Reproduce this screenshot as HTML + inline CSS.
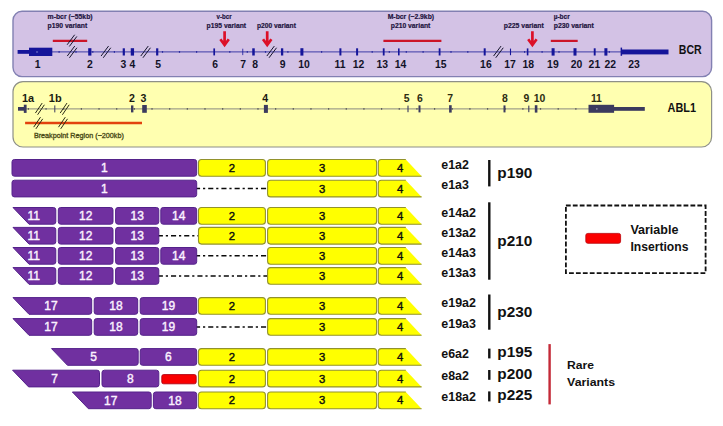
<!DOCTYPE html>
<html><head><meta charset="utf-8"><title>BCR-ABL1 fusion variants</title>
<style>
html,body{margin:0;padding:0;background:#ffffff;}
body{width:723px;height:426px;overflow:hidden;}
svg{display:block;}
text{font-family:"Liberation Sans",sans-serif;}
.b{font-weight:bold;}
</style></head><body>
<svg width="723" height="426" viewBox="0 0 723 426">
<rect x="0" y="0" width="723" height="426" fill="#ffffff"/>

<rect x="13" y="11.3" width="698.6" height="65.3" rx="9" ry="9" fill="#d3c2e5" stroke="#8280b2" stroke-width="1.4"/>
<line x1="18" y1="51.9" x2="668" y2="51.9" stroke="#2c2ca0" stroke-width="0.9"/>
<rect x="17.6" y="50" width="12" height="3.8" fill="#15159a"/>
<rect x="29" y="47.7" width="23.3" height="8.3" fill="#15159a"/>
<path d="M36.5 51.2 L38.3 52 L36.5 52.8Z" fill="#b0b0e8"/>
<rect x="88.20" y="48.20" width="3.2" height="7.4" fill="#15159a"/>
<rect x="122.70" y="48.30" width="2.2" height="7.2" fill="#15159a"/>
<rect x="130.75" y="48.20" width="3.3" height="7.4" fill="#15159a"/>
<rect x="156.10" y="48.30" width="2.2" height="7.2" fill="#15159a"/>
<rect x="213.35" y="48.40" width="1.7" height="7" fill="#15159a"/>
<rect x="242.40" y="48.70" width="0.8" height="6.4" fill="#15159a"/>
<rect x="252.25" y="48.30" width="2.5" height="7.2" fill="#15159a"/>
<rect x="280.95" y="48.30" width="2.3" height="7.2" fill="#15159a"/>
<rect x="300.40" y="48.20" width="3" height="7.4" fill="#15159a"/>
<rect x="339.40" y="48.30" width="2" height="7.2" fill="#15159a"/>
<rect x="356.10" y="48.30" width="2" height="7.2" fill="#15159a"/>
<rect x="382.80" y="48.30" width="1.8" height="7.2" fill="#15159a"/>
<rect x="398.00" y="48.40" width="1.6" height="7" fill="#15159a"/>
<rect x="438.70" y="48.30" width="1.8" height="7.2" fill="#15159a"/>
<rect x="483.70" y="48.30" width="2" height="7.2" fill="#15159a"/>
<rect x="509.95" y="48.60" width="1.1" height="6.6" fill="#15159a"/>
<rect x="526.80" y="48.40" width="1.6" height="7" fill="#15159a"/>
<rect x="551.60" y="48.20" width="3" height="7.4" fill="#15159a"/>
<rect x="573.50" y="48.20" width="3" height="7.4" fill="#15159a"/>
<rect x="593.75" y="48.30" width="1.9" height="7.2" fill="#15159a"/>
<rect x="604.40" y="48.20" width="3" height="7.4" fill="#15159a"/>
<rect x="620.6" y="47.6" width="1.5" height="8.2" fill="#15159a"/>
<rect x="621.6" y="49.5" width="46.9" height="4.9" fill="#15159a"/>
<rect x="58.5" y="51.0" width="1.2" height="1.8" fill="#2c2ca0"/>
<rect x="75.4" y="51.0" width="1.2" height="1.8" fill="#2c2ca0"/>
<rect x="92.2" y="51.0" width="1.2" height="1.8" fill="#2c2ca0"/>
<rect x="113.80000000000001" y="51.0" width="1.2" height="1.8" fill="#2c2ca0"/>
<rect x="161.9" y="51.0" width="1.2" height="1.8" fill="#2c2ca0"/>
<rect x="178.9" y="51.0" width="1.2" height="1.8" fill="#2c2ca0"/>
<rect x="196.0" y="51.0" width="1.2" height="1.8" fill="#2c2ca0"/>
<rect x="229.20000000000002" y="51.0" width="1.2" height="1.8" fill="#2c2ca0"/>
<rect x="246.70000000000002" y="51.0" width="1.2" height="1.8" fill="#2c2ca0"/>
<rect x="264.9" y="51.0" width="1.2" height="1.8" fill="#2c2ca0"/>
<rect x="287.29999999999995" y="51.0" width="1.2" height="1.8" fill="#2c2ca0"/>
<rect x="321.0" y="51.0" width="1.2" height="1.8" fill="#2c2ca0"/>
<rect x="371.59999999999997" y="51.0" width="1.2" height="1.8" fill="#2c2ca0"/>
<rect x="388.7" y="51.0" width="1.2" height="1.8" fill="#2c2ca0"/>
<rect x="405.7" y="51.0" width="1.2" height="1.8" fill="#2c2ca0"/>
<rect x="422.5" y="51.0" width="1.2" height="1.8" fill="#2c2ca0"/>
<rect x="450.4" y="51.0" width="1.2" height="1.8" fill="#2c2ca0"/>
<rect x="467.2" y="51.0" width="1.2" height="1.8" fill="#2c2ca0"/>
<rect x="524.0" y="51.0" width="1.2" height="1.8" fill="#2c2ca0"/>
<rect x="541.5" y="51.0" width="1.2" height="1.8" fill="#2c2ca0"/>
<rect x="558.4" y="51.0" width="1.2" height="1.8" fill="#2c2ca0"/>
<rect x="608.6999999999999" y="51.0" width="1.2" height="1.8" fill="#2c2ca0"/>
<line x1="67.25" y1="56.05" x2="74.75" y2="46.05" stroke="#14142c" stroke-width="1.0"/>
<line x1="69.45" y1="57.75" x2="76.95" y2="47.75" stroke="#14142c" stroke-width="1.0"/>
<line x1="101.05" y1="56.05" x2="108.55" y2="46.05" stroke="#14142c" stroke-width="1.0"/>
<line x1="103.25" y1="57.75" x2="110.75" y2="47.75" stroke="#14142c" stroke-width="1.0"/>
<line x1="140.75" y1="56.05" x2="148.25" y2="46.05" stroke="#14142c" stroke-width="1.0"/>
<line x1="142.95" y1="57.75" x2="150.45" y2="47.75" stroke="#14142c" stroke-width="1.0"/>
<line x1="266.85" y1="56.05" x2="274.35" y2="46.05" stroke="#14142c" stroke-width="1.0"/>
<line x1="269.05" y1="57.75" x2="276.55" y2="47.75" stroke="#14142c" stroke-width="1.0"/>
<line x1="493.55" y1="56.05" x2="501.05" y2="46.05" stroke="#14142c" stroke-width="1.0"/>
<line x1="495.75" y1="57.75" x2="503.25" y2="47.75" stroke="#14142c" stroke-width="1.0"/>
<line x1="52.8" y1="40.9" x2="87.2" y2="40.9" stroke="#cc1428" stroke-width="2.2"/>
<line x1="67.15" y1="44.75" x2="74.65" y2="34.75" stroke="#14142c" stroke-width="1.0"/>
<line x1="69.35" y1="46.45" x2="76.85" y2="36.45" stroke="#14142c" stroke-width="1.0"/>
<line x1="383.4" y1="40.9" x2="441.4" y2="40.9" stroke="#cc1428" stroke-width="2.2"/>
<line x1="550.8" y1="40.9" x2="577.7" y2="40.9" stroke="#cc1428" stroke-width="2.2"/>
<path d="M224.6 31.2 V44.6 M220.4 39.2 L224.6 45 L228.79999999999998 39.2" fill="none" stroke="#dc1028" stroke-width="2.7" stroke-linejoin="miter" stroke-linecap="butt"/>
<path d="M267.2 31.2 V44.6 M263.0 39.2 L267.2 45 L271.4 39.2" fill="none" stroke="#dc1028" stroke-width="2.7" stroke-linejoin="miter" stroke-linecap="butt"/>
<path d="M532.4 31.2 V44.6 M528.1999999999999 39.2 L532.4 45 L536.6 39.2" fill="none" stroke="#dc1028" stroke-width="2.7" stroke-linejoin="miter" stroke-linecap="butt"/>
<text x="37.7" y="67.8" font-size="10.4" text-anchor="middle" class="b" fill="#121228">1</text>
<text x="90" y="67.8" font-size="10.4" text-anchor="middle" class="b" fill="#121228">2</text>
<text x="123.5" y="67.8" font-size="10.4" text-anchor="middle" class="b" fill="#121228">3</text>
<text x="132.4" y="67.8" font-size="10.4" text-anchor="middle" class="b" fill="#121228">4</text>
<text x="158.1" y="67.8" font-size="10.4" text-anchor="middle" class="b" fill="#121228">5</text>
<text x="215.2" y="67.8" font-size="10.4" text-anchor="middle" class="b" fill="#121228">6</text>
<text x="243.1" y="67.8" font-size="10.4" text-anchor="middle" class="b" fill="#121228">7</text>
<text x="255.2" y="67.8" font-size="10.4" text-anchor="middle" class="b" fill="#121228">8</text>
<text x="282.6" y="67.8" font-size="10.4" text-anchor="middle" class="b" fill="#121228">9</text>
<text x="304" y="67.8" font-size="10.4" text-anchor="middle" class="b" fill="#121228">10</text>
<text x="340" y="67.8" font-size="10.4" text-anchor="middle" class="b" fill="#121228">11</text>
<text x="358.5" y="67.8" font-size="10.4" text-anchor="middle" class="b" fill="#121228">12</text>
<text x="382.2" y="67.8" font-size="10.4" text-anchor="middle" class="b" fill="#121228">13</text>
<text x="400.6" y="67.8" font-size="10.4" text-anchor="middle" class="b" fill="#121228">14</text>
<text x="440.7" y="67.8" font-size="10.4" text-anchor="middle" class="b" fill="#121228">15</text>
<text x="485.9" y="67.8" font-size="10.4" text-anchor="middle" class="b" fill="#121228">16</text>
<text x="510.1" y="67.8" font-size="10.4" text-anchor="middle" class="b" fill="#121228">17</text>
<text x="528.2" y="67.8" font-size="10.4" text-anchor="middle" class="b" fill="#121228">18</text>
<text x="552.9" y="67.8" font-size="10.4" text-anchor="middle" class="b" fill="#121228">19</text>
<text x="576.5" y="67.8" font-size="10.4" text-anchor="middle" class="b" fill="#121228">20</text>
<text x="594.4" y="67.8" font-size="10.4" text-anchor="middle" class="b" fill="#121228">21</text>
<text x="610.2" y="67.8" font-size="10.4" text-anchor="middle" class="b" fill="#121228">22</text>
<text x="634.1" y="67.8" font-size="10.4" text-anchor="middle" class="b" fill="#121228">23</text>
<text x="47.6" y="18.5" font-size="6.4" text-anchor="start" class="b" fill="#1e1440" textLength="45" lengthAdjust="spacingAndGlyphs" stroke="#1e1440" stroke-width="0.18">m-bcr (~55kb)</text>
<text x="47.6" y="27.9" font-size="6.4" text-anchor="start" class="b" fill="#1e1440" textLength="39.6" lengthAdjust="spacingAndGlyphs" stroke="#1e1440" stroke-width="0.18">p190 variant</text>
<text x="216.6" y="18.5" font-size="6.4" text-anchor="start" class="b" fill="#1e1440" textLength="15" lengthAdjust="spacingAndGlyphs" stroke="#1e1440" stroke-width="0.18">v-bcr</text>
<text x="206.6" y="27.9" font-size="6.4" text-anchor="start" class="b" fill="#1e1440" textLength="39.5" lengthAdjust="spacingAndGlyphs" stroke="#1e1440" stroke-width="0.18">p195 variant</text>
<text x="256.9" y="27.9" font-size="6.4" text-anchor="start" class="b" fill="#1e1440" textLength="39" lengthAdjust="spacingAndGlyphs" stroke="#1e1440" stroke-width="0.18">p200 variant</text>
<text x="387.7" y="18.5" font-size="6.4" text-anchor="start" class="b" fill="#1e1440" textLength="46.4" lengthAdjust="spacingAndGlyphs" stroke="#1e1440" stroke-width="0.18">M-bcr (~2.9kb)</text>
<text x="390.8" y="27.9" font-size="6.4" text-anchor="start" class="b" fill="#1e1440" textLength="39.5" lengthAdjust="spacingAndGlyphs" stroke="#1e1440" stroke-width="0.18">p210 variant</text>
<text x="503.8" y="27.9" font-size="6.4" text-anchor="start" class="b" fill="#1e1440" textLength="40" lengthAdjust="spacingAndGlyphs" stroke="#1e1440" stroke-width="0.18">p225 variant</text>
<text x="553.7" y="18.5" font-size="6.4" text-anchor="start" class="b" fill="#1e1440" textLength="16" lengthAdjust="spacingAndGlyphs" stroke="#1e1440" stroke-width="0.18">µ-bcr</text>
<text x="553.7" y="27.9" font-size="6.4" text-anchor="start" class="b" fill="#1e1440" textLength="40.2" lengthAdjust="spacingAndGlyphs" stroke="#1e1440" stroke-width="0.18">p230 variant</text>
<text x="678.8" y="53.9" font-size="12.4" text-anchor="start" class="b" fill="#111" textLength="22.9" lengthAdjust="spacingAndGlyphs">BCR</text>
<rect x="13" y="81.6" width="698.6" height="65.4" rx="10" ry="10" fill="#ffffb0" stroke="#8e9088" stroke-width="1.2"/>
<line x1="18" y1="108.9" x2="600" y2="108.9" stroke="#7a7a7a" stroke-width="0.9"/>
<rect x="18" y="107" width="6" height="3.7" fill="#3b3a5e"/>
<rect x="23.8" y="104.7" width="2.8" height="8.2" fill="#3b3a5e"/>
<rect x="54.30" y="105.40" width="1" height="7" fill="#3b3a5e"/>
<rect x="131.00" y="105.40" width="2.4" height="7" fill="#3b3a5e"/>
<rect x="142.20" y="105.00" width="4.6" height="7.8" fill="#3b3a5e"/>
<rect x="263.90" y="104.90" width="4" height="8" fill="#3b3a5e"/>
<rect x="407.45" y="105.60" width="1.1" height="6.6" fill="#3b3a5e"/>
<rect x="418.50" y="105.40" width="2" height="7" fill="#3b3a5e"/>
<rect x="449.10" y="105.20" width="2.6" height="7.4" fill="#3b3a5e"/>
<rect x="503.50" y="105.40" width="2" height="7" fill="#3b3a5e"/>
<rect x="528.25" y="105.60" width="1.1" height="6.6" fill="#3b3a5e"/>
<rect x="534.80" y="105.20" width="2.6" height="7.4" fill="#3b3a5e"/>
<rect x="588.5" y="104.8" width="25.6" height="8" fill="#3b3a5e"/>
<rect x="614" y="107" width="30.8" height="3.8" fill="#3b3a5e"/>
<path d="M596.4 108 L598 108.9 L596.4 109.8Z" fill="#c8c8d8"/>
<rect x="27.80" y="108.10000000000001" width="1.2" height="1.6" fill="#555"/>
<rect x="45.46" y="108.10000000000001" width="1.2" height="1.6" fill="#555"/>
<rect x="63.12" y="108.10000000000001" width="1.2" height="1.6" fill="#555"/>
<rect x="80.78" y="108.10000000000001" width="1.2" height="1.6" fill="#555"/>
<rect x="98.44" y="108.10000000000001" width="1.2" height="1.6" fill="#555"/>
<rect x="116.10" y="108.10000000000001" width="1.2" height="1.6" fill="#555"/>
<rect x="133.76" y="108.10000000000001" width="1.2" height="1.6" fill="#555"/>
<rect x="151.42" y="108.10000000000001" width="1.2" height="1.6" fill="#555"/>
<rect x="169.08" y="108.10000000000001" width="1.2" height="1.6" fill="#555"/>
<rect x="186.74" y="108.10000000000001" width="1.2" height="1.6" fill="#555"/>
<rect x="204.40" y="108.10000000000001" width="1.2" height="1.6" fill="#555"/>
<rect x="222.06" y="108.10000000000001" width="1.2" height="1.6" fill="#555"/>
<rect x="239.72" y="108.10000000000001" width="1.2" height="1.6" fill="#555"/>
<rect x="257.38" y="108.10000000000001" width="1.2" height="1.6" fill="#555"/>
<rect x="275.04" y="108.10000000000001" width="1.2" height="1.6" fill="#555"/>
<rect x="292.70" y="108.10000000000001" width="1.2" height="1.6" fill="#555"/>
<rect x="310.36" y="108.10000000000001" width="1.2" height="1.6" fill="#555"/>
<rect x="328.02" y="108.10000000000001" width="1.2" height="1.6" fill="#555"/>
<rect x="345.68" y="108.10000000000001" width="1.2" height="1.6" fill="#555"/>
<rect x="363.34" y="108.10000000000001" width="1.2" height="1.6" fill="#555"/>
<rect x="381.00" y="108.10000000000001" width="1.2" height="1.6" fill="#555"/>
<rect x="398.66" y="108.10000000000001" width="1.2" height="1.6" fill="#555"/>
<rect x="416.32" y="108.10000000000001" width="1.2" height="1.6" fill="#555"/>
<rect x="433.98" y="108.10000000000001" width="1.2" height="1.6" fill="#555"/>
<rect x="451.64" y="108.10000000000001" width="1.2" height="1.6" fill="#555"/>
<rect x="469.30" y="108.10000000000001" width="1.2" height="1.6" fill="#555"/>
<rect x="486.96" y="108.10000000000001" width="1.2" height="1.6" fill="#555"/>
<rect x="504.62" y="108.10000000000001" width="1.2" height="1.6" fill="#555"/>
<rect x="522.28" y="108.10000000000001" width="1.2" height="1.6" fill="#555"/>
<rect x="539.94" y="108.10000000000001" width="1.2" height="1.6" fill="#555"/>
<rect x="557.60" y="108.10000000000001" width="1.2" height="1.6" fill="#555"/>
<rect x="575.26" y="108.10000000000001" width="1.2" height="1.6" fill="#555"/>
<line x1="35.40" y1="113.05" x2="42.20" y2="103.05" stroke="#2a2a14" stroke-width="1.0"/>
<line x1="37.60" y1="114.75" x2="44.40" y2="104.75" stroke="#2a2a14" stroke-width="1.0"/>
<line x1="60.20" y1="113.05" x2="67.00" y2="103.05" stroke="#2a2a14" stroke-width="1.0"/>
<line x1="62.40" y1="114.75" x2="69.20" y2="104.75" stroke="#2a2a14" stroke-width="1.0"/>
<line x1="25.1" y1="123" x2="142" y2="123" stroke="#e2420e" stroke-width="2.3"/>
<line x1="33.70" y1="127.15" x2="40.50" y2="117.15" stroke="#2a2a14" stroke-width="1.0"/>
<line x1="35.90" y1="128.85" x2="42.70" y2="118.85" stroke="#2a2a14" stroke-width="1.0"/>
<line x1="58.50" y1="127.15" x2="65.30" y2="117.15" stroke="#2a2a14" stroke-width="1.0"/>
<line x1="60.70" y1="128.85" x2="67.50" y2="118.85" stroke="#2a2a14" stroke-width="1.0"/>
<text x="22" y="101.9" font-size="11.2" text-anchor="start" class="b" fill="#1a1a10" textLength="12.2" lengthAdjust="spacingAndGlyphs">1a</text>
<text x="48.8" y="101.9" font-size="11.2" text-anchor="start" class="b" fill="#1a1a10" textLength="12.8" lengthAdjust="spacingAndGlyphs">1b</text>
<text x="131.9" y="101.9" font-size="10.6" text-anchor="middle" class="b" fill="#1a1a10">2</text>
<text x="143.4" y="101.9" font-size="10.6" text-anchor="middle" class="b" fill="#1a1a10">3</text>
<text x="265.2" y="101.9" font-size="10.6" text-anchor="middle" class="b" fill="#1a1a10">4</text>
<text x="406.7" y="101.9" font-size="10.4" text-anchor="middle" class="b" fill="#2c2c12">5</text>
<text x="420" y="101.9" font-size="10.4" text-anchor="middle" class="b" fill="#2c2c12">6</text>
<text x="450.2" y="101.9" font-size="10.4" text-anchor="middle" class="b" fill="#2c2c12">7</text>
<text x="505" y="101.9" font-size="10.4" text-anchor="middle" class="b" fill="#2c2c12">8</text>
<text x="526.3" y="101.9" font-size="10.4" text-anchor="middle" class="b" fill="#2c2c12">9</text>
<text x="539.5" y="101.9" font-size="10.4" text-anchor="middle" class="b" fill="#2c2c12">10</text>
<text x="596.4" y="101.9" font-size="10.4" text-anchor="middle" class="b" fill="#2c2c12">11</text>
<text x="33.9" y="137.6" font-size="6.8" text-anchor="start" class="n" fill="#4a4a16" textLength="90" lengthAdjust="spacingAndGlyphs" stroke="#4a4a16" stroke-width="0.3">Breakpoint Region (~200kb)</text>
<text x="667.6" y="111.7" font-size="12" text-anchor="start" class="b" fill="#111" textLength="28.4" lengthAdjust="spacingAndGlyphs">ABL1</text>
<rect x="12" y="159.5" width="184.70" height="16.7" rx="2.4" fill="#7030a0" stroke="#54228a" stroke-width="1"/>
<text x="104.35" y="172.30" font-size="12" text-anchor="middle" fill="#fbf2ff" stroke="#fbf2ff" stroke-width="0.4">1</text>
<rect x="198.5" y="159.5" width="66.90" height="16.7" rx="3" fill="#ffff00" stroke="#92922c" stroke-width="1.1"/>
<text x="231.95" y="171.90" font-size="11.3" text-anchor="middle" fill="#0c0c0c" stroke="#0c0c0c" stroke-width="0.4">2</text>
<rect x="267.6" y="159.5" width="109.00" height="16.7" rx="3" fill="#ffff00" stroke="#92922c" stroke-width="1.1"/>
<text x="322.10" y="171.90" font-size="11.3" text-anchor="middle" fill="#0c0c0c" stroke="#0c0c0c" stroke-width="0.4">3</text>
<path d="M381.3 159.5 H405.8 L421.6 176.2 H381.3 Q378.3 176.2 378.3 173.2 V162.5 Q378.3 159.5 381.3 159.5 Z" fill="#ffff00"/>
<path d="M405.8 159.5 H381.3 Q378.3 159.5 378.3 162.5 V173.2 Q378.3 176.2 381.3 176.2 H421.6" fill="none" stroke="#92922c" stroke-width="1.1"/>
<text x="400.2" y="171.90" font-size="11.3" text-anchor="middle" fill="#0c0c0c" stroke="#0c0c0c" stroke-width="0.4">4</text>
<line x1="195" y1="188.55" x2="268" y2="188.55" stroke="#0a0a0a" stroke-width="1.5" stroke-dasharray="5.1 2.9 2.2 3"/>
<rect x="12" y="180.2" width="184.70" height="16.7" rx="2.4" fill="#7030a0" stroke="#54228a" stroke-width="1"/>
<text x="104.35" y="193.00" font-size="12" text-anchor="middle" fill="#fbf2ff" stroke="#fbf2ff" stroke-width="0.4">1</text>
<rect x="267.6" y="180.2" width="109.00" height="16.7" rx="3" fill="#ffff00" stroke="#92922c" stroke-width="1.1"/>
<text x="322.10" y="192.60" font-size="11.3" text-anchor="middle" fill="#0c0c0c" stroke="#0c0c0c" stroke-width="0.4">3</text>
<path d="M381.3 180.2 H405.8 L421.6 196.89999999999998 H381.3 Q378.3 196.89999999999998 378.3 193.89999999999998 V183.2 Q378.3 180.2 381.3 180.2 Z" fill="#ffff00"/>
<path d="M405.8 180.2 H381.3 Q378.3 180.2 378.3 183.2 V193.89999999999998 Q378.3 196.89999999999998 381.3 196.89999999999998 H421.6" fill="none" stroke="#92922c" stroke-width="1.1"/>
<text x="400.2" y="192.60" font-size="11.3" text-anchor="middle" fill="#0c0c0c" stroke="#0c0c0c" stroke-width="0.4">4</text>
<path d="M13 207.5 H53.4 Q55.8 207.5 55.8 209.9 V221.79999999999998 Q55.8 224.2 53.4 224.2 H29 Z" fill="#7030a0" stroke="#54228a" stroke-width="1" stroke-linejoin="round"/>
<text x="33.80" y="220.30" font-size="12" text-anchor="middle" fill="#fbf2ff" stroke="#fbf2ff" stroke-width="0.4">11</text>
<rect x="58.3" y="207.5" width="54.70" height="16.7" rx="2.4" fill="#7030a0" stroke="#54228a" stroke-width="1"/>
<text x="85.65" y="220.30" font-size="12" text-anchor="middle" fill="#fbf2ff" stroke="#fbf2ff" stroke-width="0.4">12</text>
<rect x="115.6" y="207.5" width="43.20" height="16.7" rx="2.4" fill="#7030a0" stroke="#54228a" stroke-width="1"/>
<text x="137.20" y="220.30" font-size="12" text-anchor="middle" fill="#fbf2ff" stroke="#fbf2ff" stroke-width="0.4">13</text>
<rect x="160.8" y="207.5" width="35.90" height="16.7" rx="2.4" fill="#7030a0" stroke="#54228a" stroke-width="1"/>
<text x="178.75" y="220.30" font-size="12" text-anchor="middle" fill="#fbf2ff" stroke="#fbf2ff" stroke-width="0.4">14</text>
<rect x="198.5" y="207.5" width="66.90" height="16.7" rx="3" fill="#ffff00" stroke="#92922c" stroke-width="1.1"/>
<text x="231.95" y="219.90" font-size="11.3" text-anchor="middle" fill="#0c0c0c" stroke="#0c0c0c" stroke-width="0.4">2</text>
<rect x="267.6" y="207.5" width="109.00" height="16.7" rx="3" fill="#ffff00" stroke="#92922c" stroke-width="1.1"/>
<text x="322.10" y="219.90" font-size="11.3" text-anchor="middle" fill="#0c0c0c" stroke="#0c0c0c" stroke-width="0.4">3</text>
<path d="M381.3 207.5 H405.8 L421.6 224.2 H381.3 Q378.3 224.2 378.3 221.2 V210.5 Q378.3 207.5 381.3 207.5 Z" fill="#ffff00"/>
<path d="M405.8 207.5 H381.3 Q378.3 207.5 378.3 210.5 V221.2 Q378.3 224.2 381.3 224.2 H421.6" fill="none" stroke="#92922c" stroke-width="1.1"/>
<text x="400.2" y="219.90" font-size="11.3" text-anchor="middle" fill="#0c0c0c" stroke="#0c0c0c" stroke-width="0.4">4</text>
<line x1="157.8" y1="235.75" x2="199" y2="235.75" stroke="#0a0a0a" stroke-width="1.5" stroke-dasharray="5.1 2.9 2.2 3"/>
<path d="M13 227.4 H53.4 Q55.8 227.4 55.8 229.8 V241.7 Q55.8 244.1 53.4 244.1 H29 Z" fill="#7030a0" stroke="#54228a" stroke-width="1" stroke-linejoin="round"/>
<text x="33.80" y="240.20" font-size="12" text-anchor="middle" fill="#fbf2ff" stroke="#fbf2ff" stroke-width="0.4">11</text>
<rect x="58.3" y="227.4" width="54.70" height="16.7" rx="2.4" fill="#7030a0" stroke="#54228a" stroke-width="1"/>
<text x="85.65" y="240.20" font-size="12" text-anchor="middle" fill="#fbf2ff" stroke="#fbf2ff" stroke-width="0.4">12</text>
<rect x="115.6" y="227.4" width="43.20" height="16.7" rx="2.4" fill="#7030a0" stroke="#54228a" stroke-width="1"/>
<text x="137.20" y="240.20" font-size="12" text-anchor="middle" fill="#fbf2ff" stroke="#fbf2ff" stroke-width="0.4">13</text>
<rect x="198.5" y="227.4" width="66.90" height="16.7" rx="3" fill="#ffff00" stroke="#92922c" stroke-width="1.1"/>
<text x="231.95" y="239.80" font-size="11.3" text-anchor="middle" fill="#0c0c0c" stroke="#0c0c0c" stroke-width="0.4">2</text>
<rect x="267.6" y="227.4" width="109.00" height="16.7" rx="3" fill="#ffff00" stroke="#92922c" stroke-width="1.1"/>
<text x="322.10" y="239.80" font-size="11.3" text-anchor="middle" fill="#0c0c0c" stroke="#0c0c0c" stroke-width="0.4">3</text>
<path d="M381.3 227.4 H405.8 L421.6 244.1 H381.3 Q378.3 244.1 378.3 241.1 V230.4 Q378.3 227.4 381.3 227.4 Z" fill="#ffff00"/>
<path d="M405.8 227.4 H381.3 Q378.3 227.4 378.3 230.4 V241.1 Q378.3 244.1 381.3 244.1 H421.6" fill="none" stroke="#92922c" stroke-width="1.1"/>
<text x="400.2" y="239.80" font-size="11.3" text-anchor="middle" fill="#0c0c0c" stroke="#0c0c0c" stroke-width="0.4">4</text>
<line x1="195" y1="255.85" x2="268" y2="255.85" stroke="#0a0a0a" stroke-width="1.5" stroke-dasharray="5.1 2.9 2.2 3"/>
<path d="M13 247.5 H53.4 Q55.8 247.5 55.8 249.9 V261.8 Q55.8 264.2 53.4 264.2 H29 Z" fill="#7030a0" stroke="#54228a" stroke-width="1" stroke-linejoin="round"/>
<text x="33.80" y="260.30" font-size="12" text-anchor="middle" fill="#fbf2ff" stroke="#fbf2ff" stroke-width="0.4">11</text>
<rect x="58.3" y="247.5" width="54.70" height="16.7" rx="2.4" fill="#7030a0" stroke="#54228a" stroke-width="1"/>
<text x="85.65" y="260.30" font-size="12" text-anchor="middle" fill="#fbf2ff" stroke="#fbf2ff" stroke-width="0.4">12</text>
<rect x="115.6" y="247.5" width="43.20" height="16.7" rx="2.4" fill="#7030a0" stroke="#54228a" stroke-width="1"/>
<text x="137.20" y="260.30" font-size="12" text-anchor="middle" fill="#fbf2ff" stroke="#fbf2ff" stroke-width="0.4">13</text>
<rect x="160.8" y="247.5" width="35.90" height="16.7" rx="2.4" fill="#7030a0" stroke="#54228a" stroke-width="1"/>
<text x="178.75" y="260.30" font-size="12" text-anchor="middle" fill="#fbf2ff" stroke="#fbf2ff" stroke-width="0.4">14</text>
<rect x="267.6" y="247.5" width="109.00" height="16.7" rx="3" fill="#ffff00" stroke="#92922c" stroke-width="1.1"/>
<text x="322.10" y="259.90" font-size="11.3" text-anchor="middle" fill="#0c0c0c" stroke="#0c0c0c" stroke-width="0.4">3</text>
<path d="M381.3 247.5 H405.8 L421.6 264.2 H381.3 Q378.3 264.2 378.3 261.2 V250.5 Q378.3 247.5 381.3 247.5 Z" fill="#ffff00"/>
<path d="M405.8 247.5 H381.3 Q378.3 247.5 378.3 250.5 V261.2 Q378.3 264.2 381.3 264.2 H421.6" fill="none" stroke="#92922c" stroke-width="1.1"/>
<text x="400.2" y="259.90" font-size="11.3" text-anchor="middle" fill="#0c0c0c" stroke="#0c0c0c" stroke-width="0.4">4</text>
<line x1="157.8" y1="275.95" x2="268" y2="275.95" stroke="#0a0a0a" stroke-width="1.5" stroke-dasharray="5.1 2.9 2.2 3"/>
<path d="M13 267.6 H53.4 Q55.8 267.6 55.8 270.0 V281.90000000000003 Q55.8 284.3 53.4 284.3 H29 Z" fill="#7030a0" stroke="#54228a" stroke-width="1" stroke-linejoin="round"/>
<text x="33.80" y="280.40" font-size="12" text-anchor="middle" fill="#fbf2ff" stroke="#fbf2ff" stroke-width="0.4">11</text>
<rect x="58.3" y="267.6" width="54.70" height="16.7" rx="2.4" fill="#7030a0" stroke="#54228a" stroke-width="1"/>
<text x="85.65" y="280.40" font-size="12" text-anchor="middle" fill="#fbf2ff" stroke="#fbf2ff" stroke-width="0.4">12</text>
<rect x="115.6" y="267.6" width="43.20" height="16.7" rx="2.4" fill="#7030a0" stroke="#54228a" stroke-width="1"/>
<text x="137.20" y="280.40" font-size="12" text-anchor="middle" fill="#fbf2ff" stroke="#fbf2ff" stroke-width="0.4">13</text>
<rect x="267.6" y="267.6" width="109.00" height="16.7" rx="3" fill="#ffff00" stroke="#92922c" stroke-width="1.1"/>
<text x="322.10" y="280.00" font-size="11.3" text-anchor="middle" fill="#0c0c0c" stroke="#0c0c0c" stroke-width="0.4">3</text>
<path d="M381.3 267.6 H405.8 L421.6 284.3 H381.3 Q378.3 284.3 378.3 281.3 V270.6 Q378.3 267.6 381.3 267.6 Z" fill="#ffff00"/>
<path d="M405.8 267.6 H381.3 Q378.3 267.6 378.3 270.6 V281.3 Q378.3 284.3 381.3 284.3 H421.6" fill="none" stroke="#92922c" stroke-width="1.1"/>
<text x="400.2" y="280.00" font-size="11.3" text-anchor="middle" fill="#0c0c0c" stroke="#0c0c0c" stroke-width="0.4">4</text>
<line x1="195" y1="326.95" x2="268" y2="326.95" stroke="#0a0a0a" stroke-width="1.5" stroke-dasharray="5.1 2.9 2.2 3"/>
<path d="M13 297.6 H89.3 Q91.7 297.6 91.7 300.0 V311.90000000000003 Q91.7 314.3 89.3 314.3 H29 Z" fill="#7030a0" stroke="#54228a" stroke-width="1" stroke-linejoin="round"/>
<text x="51.00" y="310.40" font-size="12" text-anchor="middle" fill="#fbf2ff" stroke="#fbf2ff" stroke-width="0.4">17</text>
<rect x="94.2" y="297.6" width="43.50" height="16.7" rx="2.4" fill="#7030a0" stroke="#54228a" stroke-width="1"/>
<text x="115.95" y="310.40" font-size="12" text-anchor="middle" fill="#fbf2ff" stroke="#fbf2ff" stroke-width="0.4">18</text>
<rect x="140.2" y="297.6" width="56.50" height="16.7" rx="2.4" fill="#7030a0" stroke="#54228a" stroke-width="1"/>
<text x="168.45" y="310.40" font-size="12" text-anchor="middle" fill="#fbf2ff" stroke="#fbf2ff" stroke-width="0.4">19</text>
<path d="M13 318.6 H89.3 Q91.7 318.6 91.7 321.0 V332.90000000000003 Q91.7 335.3 89.3 335.3 H29 Z" fill="#7030a0" stroke="#54228a" stroke-width="1" stroke-linejoin="round"/>
<text x="51.00" y="331.40" font-size="12" text-anchor="middle" fill="#fbf2ff" stroke="#fbf2ff" stroke-width="0.4">17</text>
<rect x="94.2" y="318.6" width="43.50" height="16.7" rx="2.4" fill="#7030a0" stroke="#54228a" stroke-width="1"/>
<text x="115.95" y="331.40" font-size="12" text-anchor="middle" fill="#fbf2ff" stroke="#fbf2ff" stroke-width="0.4">18</text>
<rect x="140.2" y="318.6" width="56.50" height="16.7" rx="2.4" fill="#7030a0" stroke="#54228a" stroke-width="1"/>
<text x="168.45" y="331.40" font-size="12" text-anchor="middle" fill="#fbf2ff" stroke="#fbf2ff" stroke-width="0.4">19</text>
<rect x="198.5" y="297.6" width="66.90" height="16.7" rx="3" fill="#ffff00" stroke="#92922c" stroke-width="1.1"/>
<text x="231.95" y="310.00" font-size="11.3" text-anchor="middle" fill="#0c0c0c" stroke="#0c0c0c" stroke-width="0.4">2</text>
<rect x="267.6" y="297.6" width="109.00" height="16.7" rx="3" fill="#ffff00" stroke="#92922c" stroke-width="1.1"/>
<text x="322.10" y="310.00" font-size="11.3" text-anchor="middle" fill="#0c0c0c" stroke="#0c0c0c" stroke-width="0.4">3</text>
<path d="M381.3 297.6 H405.8 L421.6 314.3 H381.3 Q378.3 314.3 378.3 311.3 V300.6 Q378.3 297.6 381.3 297.6 Z" fill="#ffff00"/>
<path d="M405.8 297.6 H381.3 Q378.3 297.6 378.3 300.6 V311.3 Q378.3 314.3 381.3 314.3 H421.6" fill="none" stroke="#92922c" stroke-width="1.1"/>
<text x="400.2" y="310.00" font-size="11.3" text-anchor="middle" fill="#0c0c0c" stroke="#0c0c0c" stroke-width="0.4">4</text>
<rect x="267.6" y="318.6" width="109.00" height="16.7" rx="3" fill="#ffff00" stroke="#92922c" stroke-width="1.1"/>
<text x="322.10" y="331.00" font-size="11.3" text-anchor="middle" fill="#0c0c0c" stroke="#0c0c0c" stroke-width="0.4">3</text>
<path d="M381.3 318.6 H405.8 L421.6 335.3 H381.3 Q378.3 335.3 378.3 332.3 V321.6 Q378.3 318.6 381.3 318.6 Z" fill="#ffff00"/>
<path d="M405.8 318.6 H381.3 Q378.3 318.6 378.3 321.6 V332.3 Q378.3 335.3 381.3 335.3 H421.6" fill="none" stroke="#92922c" stroke-width="1.1"/>
<text x="400.2" y="331.00" font-size="11.3" text-anchor="middle" fill="#0c0c0c" stroke="#0c0c0c" stroke-width="0.4">4</text>
<path d="M51.5 348.6 H135.79999999999998 Q138.2 348.6 138.2 351.0 V362.90000000000003 Q138.2 365.3 135.79999999999998 365.3 H67.5 Z" fill="#7030a0" stroke="#54228a" stroke-width="1" stroke-linejoin="round"/>
<text x="93.70" y="361.40" font-size="12" text-anchor="middle" fill="#fbf2ff" stroke="#fbf2ff" stroke-width="0.4">5</text>
<rect x="140.2" y="348.6" width="56.50" height="16.7" rx="2.4" fill="#7030a0" stroke="#54228a" stroke-width="1"/>
<text x="168.45" y="361.40" font-size="12" text-anchor="middle" fill="#fbf2ff" stroke="#fbf2ff" stroke-width="0.4">6</text>
<rect x="198.5" y="348.6" width="66.90" height="16.7" rx="3" fill="#ffff00" stroke="#92922c" stroke-width="1.1"/>
<text x="231.95" y="361.00" font-size="11.3" text-anchor="middle" fill="#0c0c0c" stroke="#0c0c0c" stroke-width="0.4">2</text>
<rect x="267.6" y="348.6" width="109.00" height="16.7" rx="3" fill="#ffff00" stroke="#92922c" stroke-width="1.1"/>
<text x="322.10" y="361.00" font-size="11.3" text-anchor="middle" fill="#0c0c0c" stroke="#0c0c0c" stroke-width="0.4">3</text>
<path d="M381.3 348.6 H405.8 L421.6 365.3 H381.3 Q378.3 365.3 378.3 362.3 V351.6 Q378.3 348.6 381.3 348.6 Z" fill="#ffff00"/>
<path d="M405.8 348.6 H381.3 Q378.3 348.6 378.3 351.6 V362.3 Q378.3 365.3 381.3 365.3 H421.6" fill="none" stroke="#92922c" stroke-width="1.1"/>
<text x="400.2" y="361.00" font-size="11.3" text-anchor="middle" fill="#0c0c0c" stroke="#0c0c0c" stroke-width="0.4">4</text>
<path d="M12.6 370.2 H97.1 Q99.5 370.2 99.5 372.59999999999997 V384.5 Q99.5 386.9 97.1 386.9 H28.6 Z" fill="#7030a0" stroke="#54228a" stroke-width="1" stroke-linejoin="round"/>
<text x="54.50" y="383.00" font-size="12" text-anchor="middle" fill="#fbf2ff" stroke="#fbf2ff" stroke-width="0.4">7</text>
<rect x="102" y="370.2" width="56.80" height="16.7" rx="2.4" fill="#7030a0" stroke="#54228a" stroke-width="1"/>
<text x="130.40" y="383.00" font-size="12" text-anchor="middle" fill="#fbf2ff" stroke="#fbf2ff" stroke-width="0.4">8</text>
<rect x="161.8" y="374.59999999999997" width="34.4" height="9.2" rx="1.8" fill="#fa0000" stroke="#b00010" stroke-width="0.9"/>
<rect x="198.5" y="370.2" width="66.90" height="16.7" rx="3" fill="#ffff00" stroke="#92922c" stroke-width="1.1"/>
<text x="231.95" y="382.60" font-size="11.3" text-anchor="middle" fill="#0c0c0c" stroke="#0c0c0c" stroke-width="0.4">2</text>
<rect x="267.6" y="370.2" width="109.00" height="16.7" rx="3" fill="#ffff00" stroke="#92922c" stroke-width="1.1"/>
<text x="322.10" y="382.60" font-size="11.3" text-anchor="middle" fill="#0c0c0c" stroke="#0c0c0c" stroke-width="0.4">3</text>
<path d="M381.3 370.2 H405.8 L421.6 386.9 H381.3 Q378.3 386.9 378.3 383.9 V373.2 Q378.3 370.2 381.3 370.2 Z" fill="#ffff00"/>
<path d="M405.8 370.2 H381.3 Q378.3 370.2 378.3 373.2 V383.9 Q378.3 386.9 381.3 386.9 H421.6" fill="none" stroke="#92922c" stroke-width="1.1"/>
<text x="400.2" y="382.60" font-size="11.3" text-anchor="middle" fill="#0c0c0c" stroke="#0c0c0c" stroke-width="0.4">4</text>
<path d="M72.4 392 H148.79999999999998 Q151.2 392 151.2 394.4 V406.3 Q151.2 408.7 148.79999999999998 408.7 H88.4 Z" fill="#7030a0" stroke="#54228a" stroke-width="1" stroke-linejoin="round"/>
<text x="110.80" y="404.80" font-size="12" text-anchor="middle" fill="#fbf2ff" stroke="#fbf2ff" stroke-width="0.4">17</text>
<rect x="153.4" y="392" width="43.30" height="16.7" rx="2.4" fill="#7030a0" stroke="#54228a" stroke-width="1"/>
<text x="175.05" y="404.80" font-size="12" text-anchor="middle" fill="#fbf2ff" stroke="#fbf2ff" stroke-width="0.4">18</text>
<rect x="198.5" y="392" width="66.90" height="16.7" rx="3" fill="#ffff00" stroke="#92922c" stroke-width="1.1"/>
<text x="231.95" y="404.40" font-size="11.3" text-anchor="middle" fill="#0c0c0c" stroke="#0c0c0c" stroke-width="0.4">2</text>
<rect x="267.6" y="392" width="109.00" height="16.7" rx="3" fill="#ffff00" stroke="#92922c" stroke-width="1.1"/>
<text x="322.10" y="404.40" font-size="11.3" text-anchor="middle" fill="#0c0c0c" stroke="#0c0c0c" stroke-width="0.4">3</text>
<path d="M381.3 392 H405.8 L421.6 408.7 H381.3 Q378.3 408.7 378.3 405.7 V395 Q378.3 392 381.3 392 Z" fill="#ffff00"/>
<path d="M405.8 392 H381.3 Q378.3 392 378.3 395 V405.7 Q378.3 408.7 381.3 408.7 H421.6" fill="none" stroke="#92922c" stroke-width="1.1"/>
<text x="400.2" y="404.40" font-size="11.3" text-anchor="middle" fill="#0c0c0c" stroke="#0c0c0c" stroke-width="0.4">4</text>
<text x="441.3" y="169.3" font-size="12.4" text-anchor="start" class="b" fill="#111" textLength="27.6" lengthAdjust="spacingAndGlyphs">e1a2</text>
<text x="441.3" y="189.4" font-size="12.4" text-anchor="start" class="b" fill="#111" textLength="27.6" lengthAdjust="spacingAndGlyphs">e1a3</text>
<text x="441.3" y="216.6" font-size="12.4" text-anchor="start" class="b" fill="#111" textLength="34.6" lengthAdjust="spacingAndGlyphs">e14a2</text>
<text x="441.3" y="236.7" font-size="12.4" text-anchor="start" class="b" fill="#111" textLength="34.6" lengthAdjust="spacingAndGlyphs">e13a2</text>
<text x="441.3" y="257.1" font-size="12.4" text-anchor="start" class="b" fill="#111" textLength="34.6" lengthAdjust="spacingAndGlyphs">e14a3</text>
<text x="441.3" y="276.9" font-size="12.4" text-anchor="start" class="b" fill="#111" textLength="34.6" lengthAdjust="spacingAndGlyphs">e13a3</text>
<text x="441.3" y="306.8" font-size="12.4" text-anchor="start" class="b" fill="#111" textLength="34.6" lengthAdjust="spacingAndGlyphs">e19a2</text>
<text x="441.3" y="327.9" font-size="12.4" text-anchor="start" class="b" fill="#111" textLength="34.6" lengthAdjust="spacingAndGlyphs">e19a3</text>
<text x="441.3" y="357.9" font-size="12.4" text-anchor="start" class="b" fill="#111" textLength="27.6" lengthAdjust="spacingAndGlyphs">e6a2</text>
<text x="441.3" y="380" font-size="12.4" text-anchor="start" class="b" fill="#111" textLength="27.6" lengthAdjust="spacingAndGlyphs">e8a2</text>
<text x="441.3" y="401.2" font-size="12.4" text-anchor="start" class="b" fill="#111" textLength="34.6" lengthAdjust="spacingAndGlyphs">e18a2</text>
<rect x="488.1" y="160" width="2.4" height="26.40" fill="#111"/>
<rect x="488.1" y="202.3" width="2.4" height="77.40" fill="#111"/>
<rect x="488.1" y="294.5" width="2.4" height="35.20" fill="#111"/>
<rect x="488.1" y="348.6" width="2.4" height="9.80" fill="#111"/>
<rect x="488.1" y="370" width="2.4" height="9.80" fill="#111"/>
<rect x="488.1" y="391.4" width="2.4" height="10.00" fill="#111"/>
<text x="497.3" y="177.6" font-size="14.6" text-anchor="start" class="b" fill="#111" textLength="35" lengthAdjust="spacingAndGlyphs">p190</text>
<text x="497.3" y="246.2" font-size="14.6" text-anchor="start" class="b" fill="#111" textLength="35" lengthAdjust="spacingAndGlyphs">p210</text>
<text x="497.3" y="317.1" font-size="14.6" text-anchor="start" class="b" fill="#111" textLength="35" lengthAdjust="spacingAndGlyphs">p230</text>
<text x="497.3" y="357.2" font-size="14.6" text-anchor="start" class="b" fill="#111" textLength="35" lengthAdjust="spacingAndGlyphs">p195</text>
<text x="497.3" y="379.3" font-size="14.6" text-anchor="start" class="b" fill="#111" textLength="35" lengthAdjust="spacingAndGlyphs">p200</text>
<text x="497.3" y="400.2" font-size="14.6" text-anchor="start" class="b" fill="#111" textLength="35" lengthAdjust="spacingAndGlyphs">p225</text>
<rect x="565.9" y="205.5" width="139.7" height="67.6" fill="none" stroke="#111" stroke-width="1.8" stroke-dasharray="4.8 2.12"/>
<rect x="585.8" y="233.4" width="34.8" height="9.9" rx="2" fill="#fb0000" stroke="#b80008" stroke-width="0.8"/>
<text x="630.4" y="234.2" font-size="12.4" text-anchor="start" class="b" fill="#111" textLength="48" lengthAdjust="spacingAndGlyphs">Variable</text>
<text x="630.4" y="251" font-size="12.4" text-anchor="start" class="b" fill="#111" textLength="58" lengthAdjust="spacingAndGlyphs">Insertions</text>
<rect x="548.4" y="344.1" width="2.4" height="60.3" fill="#c42a38"/>
<text x="567.1" y="369.3" font-size="11.8" text-anchor="start" class="b" fill="#111" textLength="27" lengthAdjust="spacingAndGlyphs">Rare</text>
<text x="567.1" y="386.3" font-size="11.8" text-anchor="start" class="b" fill="#111" textLength="48" lengthAdjust="spacingAndGlyphs">Variants</text>
</svg></body></html>
